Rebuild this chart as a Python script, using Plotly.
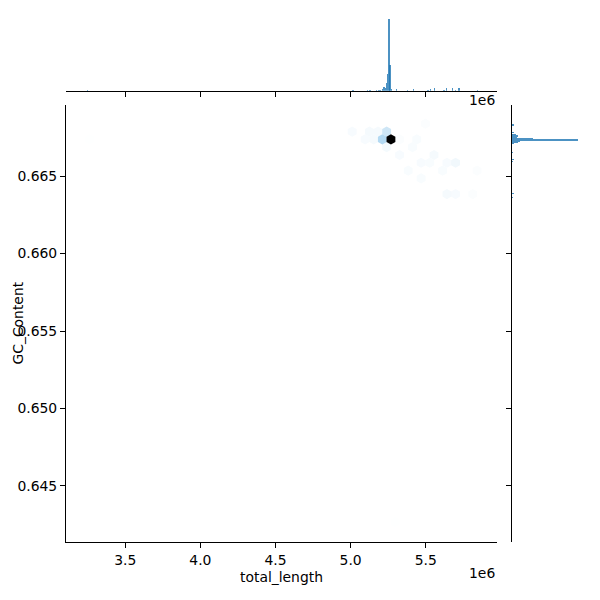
import colorsys
import numpy as np
import plotly.graph_objects as go

# ---------------- data ----------------
# hexbin cells: centre total_length, centre GC_Content, count
hex_x = [5.4980e6,
         5.0107e6, 5.1254e6, 5.1827e6, 5.2400e6,
         5.0967e6, 5.1540e6, 5.2114e6, 5.3260e6, 5.4407e6,
         5.2400e6, 5.4120e6,
         5.3260e6, 5.5554e6,
         5.4694e6, 5.5267e6, 5.6414e6, 5.6987e6,
         5.3834e6, 5.6127e6, 5.8420e6,
         5.4694e6,
         5.6414e6, 5.6987e6, 5.8134e6,
         3.2622e6, 5.2974e6,
         5.2687e6]
hex_y = [0.66838,
         0.66787, 0.66787, 0.66787, 0.66787,
         0.66737, 0.66737, 0.66737, 0.66737, 0.66737,
         0.66687, 0.66687,
         0.66636, 0.66636,
         0.66586, 0.66586, 0.66586, 0.66586,
         0.66535, 0.66535, 0.66535,
         0.66485,
         0.66384, 0.66384, 0.66384,
         0.66737, 0.64267,
         0.66737]
hex_count = [8,
             14, 18, 18, 90,
             14, 18, 140, 8, 12,
             20, 12,
             14, 18,
             14, 12, 14, 26,
             12, 12, 8,
             12,
             18, 14, 8,
             1, 1,
             800]

# marginal histogram of total_length (bin centres, counts)
len_bins = [3.2462e6, 5.0153e6, 5.1113e6, 5.1287e6, 5.1713e6, 5.1847e6, 5.1953e6,
            5.2113e6, 5.2220e6, 5.2333e6, 5.2400e6, 5.2473e6, 5.2553e6,
            5.2627e6, 5.2700e6, 5.3033e6, 5.3767e6, 5.4180e6, 5.5153e6,
            5.5333e6, 5.5600e6, 5.6220e6, 5.6400e6, 5.6780e6, 5.7000e6,
            5.7220e6, 5.8460e6]
len_counts = [1, 3, 3, 3, 3, 3, 3,
              6, 12, 9, 24, 51, 216,
              78, 6, 6, 3, 6, 3,
              6, 9, 3, 9, 9, 3,
              9, 2]

# marginal histogram of GC_Content (bin centres, counts)
gc_bins = [0.668295, 0.667823, 0.667662, 0.667584, 0.667500, 0.667416,
           0.667332, 0.667248, 0.667164, 0.667080, 0.666531, 0.666079,
           0.665950, 0.663882, 0.663624, 0.642600]
gc_counts = [7, 6, 12, 18, 15, 63,
             195, 24, 18, 6, 4, 6,
             4, 6, 4, 1]

x_ticks = [3.5e6, 4.0e6, 4.5e6, 5.0e6, 5.5e6]
x_tick_labels = ["3.5", "4.0", "4.5", "5.0", "5.5"]
y_ticks = [0.645, 0.650, 0.655, 0.660, 0.665]
y_tick_labels = ["0.645", "0.650", "0.655", "0.660", "0.665"]

# ---------------- styling ----------------
C0 = (31 / 255, 119 / 255, 180 / 255)
h, _, s = colorsys.rgb_to_hls(*C0)
levels = np.linspace(1, 0, 12)
colorscale = []
for i, l in enumerate(levels):
    r, g, b = colorsys.hls_to_rgb(h, l, s)
    colorscale.append([i / 11, f"rgb({r*255:.0f},{g*255:.0f},{b*255:.0f})"])

FONT = dict(family="DejaVu Sans", size=13.9, color="black")
AX = dict(showgrid=False, zeroline=False, showline=True, linecolor="black",
          linewidth=1.1, ticks="outside", ticklen=5, tickwidth=1.1,
          tickcolor="black", tickfont=FONT, automargin=False)

order = np.argsort(hex_count)
fig = go.Figure()
fig.add_trace(go.Scatter(
    x=np.array(hex_x)[order], y=np.array(hex_y)[order], mode="markers",
    marker=dict(symbol="hexagon", size=10.2, color=np.array(hex_count)[order],
                colorscale=colorscale, cmin=0, cmax=max(hex_count),
                line=dict(width=0)),
    xaxis="x", yaxis="y", showlegend=False, hoverinfo="x+y+text",
    text=[str(c) for c in np.array(hex_count)[order]]))

fig.add_trace(go.Bar(x=len_bins, y=len_counts, width=8000,
                     marker=dict(color="rgba(31,119,180,0.8)", line=dict(width=0)),
                     xaxis="x2", yaxis="y2", showlegend=False))
fig.add_trace(go.Bar(y=gc_bins, x=gc_counts, width=0.00008, orientation="h",
                     marker=dict(color="rgba(31,119,180,0.8)", line=dict(width=0)),
                     xaxis="x3", yaxis="y3", showlegend=False))

xr = [3.1052e6, 5.9727e6]
yr = [0.641384, 0.669585]
fig.update_layout(
    width=592, height=592,
    margin=dict(l=58, r=19, t=7, b=58, autoexpand=False),
    paper_bgcolor="white", plot_bgcolor="white",
    font=FONT, bargap=0,
    xaxis=dict(AX, domain=[0, 0.8363], anchor="y", range=xr,
               tickvals=x_ticks, ticktext=x_tick_labels),
    yaxis=dict(AX, domain=[0, 0.8292], anchor="x", range=yr,
               tickvals=y_ticks, ticktext=y_tick_labels),
    xaxis2=dict(AX, domain=[0, 0.8363], anchor="y2", range=xr, matches="x",
                tickvals=x_ticks, showticklabels=False),
    yaxis2=dict(domain=[0.8564, 1], anchor="x2",
                range=[0, max(len_counts) * 1.05], visible=False),
    xaxis3=dict(domain=[0.8654, 1], anchor="y3",
                range=[0, max(gc_counts) * 1.05], visible=False),
    yaxis3=dict(AX, domain=[0, 0.8292], anchor="x3", range=yr, matches="y",
                tickvals=y_ticks, showticklabels=False),
    annotations=[
        dict(text="total_length", xref="paper", yref="paper", x=0.4182,
             y=-0.0664, xanchor="center", yanchor="middle", showarrow=False,
             font=FONT),
        dict(text="1e6", xref="paper", yref="paper", x=0.8363, y=-0.0588,
             xanchor="right", yanchor="middle", showarrow=False, font=FONT),
        dict(text="1e6", xref="paper", yref="paper", x=0.8363, y=0.8387,
             xanchor="right", yanchor="middle", showarrow=False, font=FONT),
        dict(text="GC_Content", xref="paper", yref="paper", x=-58 / 515,
             y=0.4146, xanchor="left", yanchor="middle", textangle=-90,
             showarrow=False, font=FONT),
    ],
)

fig.write_html("out.html")
